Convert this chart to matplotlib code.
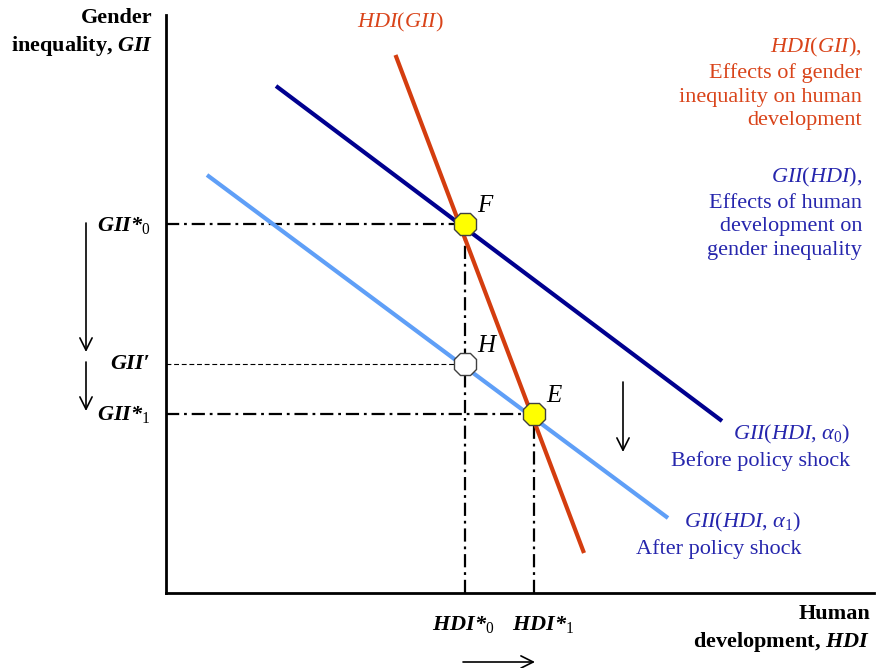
import matplotlib
matplotlib.use("Agg")
import matplotlib.pyplot as plt

# *** Chart data (axis units: HDI to the right, GII upward) ***

# GII(HDI, alpha_0): before policy shock
gii_before_x = [110, 556]
gii_before_y = [507, 172]
# GII(HDI, alpha_1): after policy shock
gii_after_x = [41, 502]
gii_after_y = [418, 75]
# HDI(GII)
hdi_gii_x = [229.5, 418]
hdi_gii_y = [538, 40]

# Equilibrium values
hdi_0, hdi_1 = 298.5, 368
gii_0, gii_prime, gii_1 = 369.5, 229.5, 179.5

point_names = ["F", "H", "E"]
point_x = [hdi_0, hdi_0, hdi_1]
point_y = [gii_0, gii_prime, gii_1]
point_fill = ["#ffff00", "#ffffff", "#ffff00"]

# *** Styling ***
W, H = 876, 668
RED = "#d43d0f"
RED_TXT = "#d9441a"
NAVY = "#00008f"
LIGHT = "#5f9ff7"
BLUE_TXT = "#2626ad"
FS = 16
LS = 1.32

plt.rcParams["font.family"] = "Liberation Serif"
plt.rcParams["mathtext.fontset"] = "custom"
plt.rcParams["mathtext.rm"] = "Liberation Serif"
plt.rcParams["mathtext.it"] = "Liberation Serif:italic"
plt.rcParams["mathtext.bf"] = "Liberation Serif:bold"
plt.rcParams["mathtext.sf"] = "Liberation Serif:bold:italic"   # used as bold italic
plt.rcParams["lines.scale_dashes"] = False


def fp(x, y):
	# pixel position (from top-left) -> figure fraction
	return x / W, 1 - y / H


fig = plt.figure(figsize=(W / 100, H / 100), dpi=100)
ax = fig.add_axes([166 / W, (H - 593) / H, 708 / W, 578 / H])
ax.set_xlim(0, 708)
ax.set_ylim(0, 578)
for s in ["top", "right"]:
	ax.spines[s].set_visible(False)
for s in ["left", "bottom"]:
	ax.spines[s].set_linewidth(2)
ax.set_xticks([])
ax.set_yticks([])

dashdot = (0, (9.5, 3.5, 2, 3.5))

# Reference lines to the axes
ax.plot([0, hdi_0], [gii_0, gii_0], color="k", lw=1.6, ls=dashdot)
ax.plot([0, hdi_1], [gii_1, gii_1], color="k", lw=1.6, ls=dashdot)
ax.plot([0, hdi_0], [gii_prime, gii_prime], color="k", lw=0.8, ls=(0, (3.5, 2)))
ax.plot([hdi_0, hdi_0], [0, gii_0], color="k", lw=1.6, ls=dashdot)
ax.plot([hdi_1, hdi_1], [0, gii_1], color="k", lw=1.6, ls=dashdot)

# Curves
ax.plot(gii_before_x, gii_before_y, color=NAVY, lw=3, solid_capstyle="butt")
ax.plot(gii_after_x, gii_after_y, color=LIGHT, lw=3, solid_capstyle="butt")
ax.plot(hdi_gii_x, hdi_gii_y, color=RED, lw=3, solid_capstyle="butt")

# Equilibrium points
for name, x, y, c in zip(point_names, point_x, point_y, point_fill):
	ax.plot(x, y, marker="8", ms=17, mfc=c, mec="#404040", mew=1, zorder=5)
	ax.annotate(name, (x, y), xytext=(9, 5), textcoords="offset points",
		fontsize=FS + 2, style="italic", ha="left", va="bottom")

# *** Text ***
fig.text(*fp(153, 33), "Gender\ninequality, $\\mathsf{GII}$", fontsize=FS,
	fontweight="bold", ha="right", va="center", multialignment="right", linespacing=LS)
fig.text(*fp(870, 629), "Human\ndevelopment, $\\mathsf{HDI}$", fontsize=FS,
	fontweight="bold", ha="right", va="center", multialignment="right", linespacing=LS)

fig.text(*fp(150, 225), "$\\mathsf{GII}$*$_{\\mathrm{0}}$", fontsize=FS,
	fontweight="bold", style="italic", ha="right", va="center")
fig.text(*fp(150, 364), "GII\u2032", fontsize=FS,
	fontweight="bold", style="italic", ha="right", va="center")
fig.text(*fp(150, 414), "$\\mathsf{GII}$*$_{\\mathrm{1}}$", fontsize=FS,
	fontweight="bold", style="italic", ha="right", va="center")

fig.text(*fp(463, 624), "$\\mathsf{HDI}$*$_{\\mathrm{0}}$", fontsize=FS,
	fontweight="bold", style="italic", ha="center", va="center")
fig.text(*fp(543, 624), "$\\mathsf{HDI}$*$_{\\mathrm{1}}$", fontsize=FS,
	fontweight="bold", style="italic", ha="center", va="center")

fig.text(*fp(400, 22), "$HDI$($GII$)", fontsize=FS, color=RED_TXT,
	ha="center", va="center")
fig.text(*fp(862, 83), "$HDI$($GII$),\nEffects of gender\ninequality on human\ndevelopment",
	fontsize=FS, color=RED_TXT, ha="right", va="center", multialignment="right",
	linespacing=LS)
fig.text(*fp(862, 213), "$GII$($HDI$),\nEffects of human\ndevelopment on\ngender inequality",
	fontsize=FS, color=BLUE_TXT, ha="right", va="center", multialignment="right",
	linespacing=LS)

fig.text(*fp(850, 447), "$GII$($HDI$, $\\alpha_0$)\nBefore policy shock", fontsize=FS,
	color=BLUE_TXT, ha="right", va="center", multialignment="right", linespacing=LS)
fig.text(*fp(801, 535), "$GII$($HDI$, $\\alpha_1$)\nAfter policy shock", fontsize=FS,
	color=BLUE_TXT, ha="right", va="center", multialignment="right", linespacing=LS)

# *** Shift arrows ***
arrow = dict(arrowstyle="->", color="k", lw=1.2, mutation_scale=22, shrinkA=0, shrinkB=0)
arrow_from = [(86, 223), (86, 362), (623, 382), (463, 662)]
arrow_to = [(86, 352), (86, 411), (623, 452), (535, 662)]
for a, b in zip(arrow_from, arrow_to):
	fig.add_artist(matplotlib.patches.FancyArrowPatch(fp(*a), fp(*b),
		transform=fig.transFigure, **arrow))

fig.savefig("out.png", dpi=100, facecolor="white")
